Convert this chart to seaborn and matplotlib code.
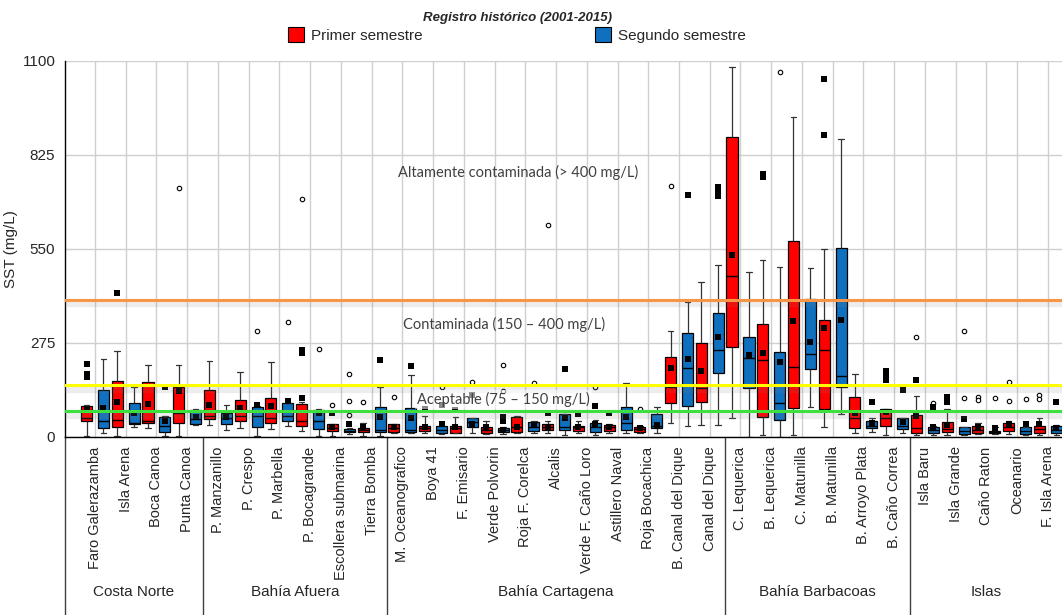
import matplotlib
matplotlib.use("Agg")
import matplotlib.pyplot as plt
import matplotlib.patheffects as pe
from matplotlib.patches import Patch
import numpy as np
import pandas as pd
import seaborn as sns

# estaciones y zonas
stations = ["Faro Galerazamba", "Isla Arena", "Boca Canoa", "Punta Canoa",
            "P. Manzanillo", "P. Crespo", "P. Marbella", "P. Bocagrande",
            "Escollera submarina", "Tierra Bomba",
            "M. Oceanografico", "Boya 41", "F. Emisario", "Verde Polvorin",
            "Roja F. Corelca", "Alcalis", "Verde F. Caño Loro", "Astillero Naval",
            "Roja Bocachica", "B. Canal del Dique", "Canal del Dique",
            "C. Lequerica", "B. Lequerica", "C. Matunilla", "B. Matunilla",
            "B. Arroyo Plata", "B. Caño Correa",
            "Isla Baru", "Isla Grande", "Caño Raton", "Oceanario", "F. Isla Arena"]
groups = ["Costa Norte", "Bahía Afuera", "Bahía Cartagena", "Bahía Barbacoas", "Islas"]
group_sizes = [4, 6, 11, 6, 5]
semesters = ["Primer semestre", "Segundo semestre"]

# primer semestre: bigote inf, Q1, mediana, Q3, bigote sup, media
r_lo = [2, 2, 25, 2, 34, 26, 22, 17, 2, 2,
        11, 11, 10, 8, 11, 12, 10, 10, 12, 39, 34,
        55, 5, 5, 29, 12, 5,
        5, 5, 8, 8, 5]
r_q1 = [47, 29, 39, 39, 52, 46, 39, 32, 17, 14,
        15, 17, 12, 10, 15, 20, 18, 17, 15, 99, 101,
        262, 59, 83, 80, 25, 31,
        10, 15, 12, 17, 12]
r_med = [54, 49, 45, 70, 61, 61, 54, 46, 25, 20,
         26, 25, 24, 20, 29, 29, 27, 27, 22, 145, 142,
         471, 224, 205, 254, 54, 54,
         25, 23, 20, 29, 23]
r_q3 = [91, 164, 161, 146, 137, 107, 114, 95, 36, 26,
        36, 32, 32, 29, 57, 36, 31, 34, 29, 232, 273,
        878, 329, 573, 341, 117, 80,
        63, 42, 31, 41, 31]
r_hi = [92, 251, 210, 210, 221, 188, 218, 102, 38, 41,
        38, 61, 59, 46, 61, 45, 47, 38, 31, 310, 452,
        1083, 517, 936, 549, 183, 82,
        120, 80, 41, 45, 54]
r_mean = [78, 101, 96, 134, 93, 83, 91, 112, 27, 27,
          27, 27, 27, 27, 29, 29, 27, 27, 24, 200, 192,
          532, 244, 339, 317, 70, 71,
          61, 35, 29, 36, 36]

# segundo semestre
b_lo = [10, 29, 2, 34, 20, 2, 31, 2, 8, 2,
        10, 9, 11, 8, 12, 5, 5, 10, 11, 31, 34,
        0, 0, 86, 66, 15, 10,
        5, 5, 8, 5, 5]
b_q1 = [26, 36, 13, 37, 36, 29, 46, 22, 14, 15,
        15, 12, 27, 15, 18, 20, 15, 20, 25, 90, 185,
        142, 49, 197, 145, 25, 22,
        10, 8, 10, 7, 10]
b_med = [47, 41, 31, 51, 55, 61, 61, 46, 18, 20,
         20, 20, 44, 20, 29, 29, 27, 39, 30, 202, 254,
         229, 100, 242, 178, 31, 32,
         19, 16, 14, 16, 19]
b_q3 = [137, 98, 59, 78, 70, 88, 98, 78, 22, 88,
        85, 32, 54, 25, 42, 65, 41, 86, 65, 303, 363,
        291, 249, 403, 551, 46, 54,
        27, 27, 18, 27, 31]
b_hi = [227, 145, 62, 80, 93, 90, 100, 80, 24, 146,
        180, 38, 56, 27, 45, 67, 49, 158, 88, 395, 502,
        483, 497, 494, 871, 54, 56,
        31, 29, 29, 29, 33]
b_mean = [83, 68, 47, 57, 57, 93, 104, 70, 36, 57,
          54, 36, 36, 20, 34, 54, 36, 57, 34, 226, 291,
          239, 218, 278, 341, 39, 42,
          27, 51, 25, 36, 25]

# valores atipicos (circulos) y extremos (cuadrados)
P1, P2 = semesters
outliers = [("Punta Canoa", P1, 727), ("P. Crespo", P2, 310), ("P. Marbella", P2, 335),
            ("P. Bocagrande", P1, 695), ("P. Bocagrande", P2, 256),
            ("Escollera submarina", P1, 93), ("Escollera submarina", P2, 183),
            ("Escollera submarina", P2, 105), ("Escollera submarina", P2, 63),
            ("Tierra Bomba", P1, 102), ("M. Oceanografico", P1, 117),
            ("Boya 41", P2, 146), ("F. Emisario", P2, 161),
            ("Verde Polvorin", P2, 134), ("Verde Polvorin", P2, 210),
            ("Roja F. Corelca", P2, 156), ("Alcalis", P1, 618),
            ("Verde F. Caño Loro", P2, 145), ("Roja Bocachica", P1, 81),
            ("B. Canal del Dique", P1, 733), ("B. Lequerica", P2, 1067),
            ("Isla Baru", P1, 293), ("Isla Baru", P2, 98),
            ("Isla Grande", P2, 309), ("Isla Grande", P2, 112),
            ("Caño Raton", P1, 115), ("Caño Raton", P1, 107), ("Caño Raton", P2, 112),
            ("Oceanario", P1, 161), ("Oceanario", P1, 105), ("Oceanario", P2, 109),
            ("F. Isla Arena", P1, 122), ("F. Isla Arena", P1, 109)]
extremes = [("Faro Galerazamba", P1, 213), ("Faro Galerazamba", P1, 183),
            ("Faro Galerazamba", P1, 174), ("Isla Arena", P1, 420),
            ("Boca Canoa", P2, 145), ("P. Bocagrande", P1, 255), ("P. Bocagrande", P1, 245),
            ("Escollera submarina", P1, 68), ("Tierra Bomba", P2, 224),
            ("M. Oceanografico", P2, 208), ("Boya 41", P1, 82), ("Boya 41", P2, 93),
            ("F. Emisario", P1, 78), ("F. Emisario", P2, 122),
            ("Verde Polvorin", P2, 58), ("Verde Polvorin", P2, 45),
            ("Alcalis", P1, 68), ("Alcalis", P2, 198),
            ("Verde F. Caño Loro", P1, 66), ("Verde F. Caño Loro", P2, 90),
            ("Astillero Naval", P1, 68), ("B. Canal del Dique", P2, 706),
            ("Canal del Dique", P2, 730), ("Canal del Dique", P2, 716),
            ("Canal del Dique", P2, 703),
            ("B. Lequerica", P1, 770), ("B. Lequerica", P1, 760),
            ("B. Matunilla", P1, 1046), ("B. Matunilla", P1, 883),
            ("B. Arroyo Plata", P2, 102),
            ("B. Caño Correa", P1, 193), ("B. Caño Correa", P1, 178),
            ("B. Caño Correa", P1, 166), ("B. Caño Correa", P2, 137),
            ("Isla Baru", P1, 166), ("Isla Baru", P2, 88),
            ("Isla Grande", P1, 117), ("Isla Grande", P1, 102),
            ("F. Isla Arena", P2, 102)]

thresholds = [400, 150, 75]
threshold_colors = ["#F79646", "#FFFF00", "#3EE03E"]

red = "#FF0000"
blue = "#1070C0"

# tablas largas
rows = []
for sem, stats in [(P1, (r_lo, r_q1, r_med, r_q3, r_hi)), (P2, (b_lo, b_q1, b_med, b_q3, b_hi))]:
    for i, st in enumerate(stations):
        for s in stats:
            rows.append((st, sem, s[i]))
box_df = pd.DataFrame(rows, columns=["station", "semester", "value"])

mean_df = pd.DataFrame(
    [(st, P1, v) for st, v in zip(stations, r_mean)] + [(st, P2, v) for st, v in zip(stations, b_mean)],
    columns=["station", "semester", "value"])

sns.set_theme(style="white")
plt.rcParams["font.family"] = ["Liberation Sans", "DejaVu Sans"]

fig = plt.figure(figsize=(10.62, 6.15), dpi=100)
ax = fig.add_axes([65 / 1062, 178.3 / 615, 997 / 1062, 376 / 615])

box_w = 1.106
dodge = box_w / 2
pal = {P1: red, P2: blue}

sns.boxplot(data=box_df, x="station", y="value", hue="semester", order=stations,
            hue_order=semesters, palette=pal, saturation=1, width=box_w, gap=0.35,
            whis=(0, 100), showfliers=False, linewidth=0.9, linecolor="black",
            legend=False, ax=ax,
            whiskerprops={"color": "#333333"}, capprops={"color": "#333333"},
            medianprops={"color": "black", "linewidth": 1.0})

sns.pointplot(data=mean_df, x="station", y="value", hue="semester", order=stations,
              hue_order=semesters, palette={P1: "black", P2: "black"}, markers="s",
              linestyle="none", errorbar=None, dodge=dodge, markersize=4.2,
              markeredgewidth=0, legend=False, ax=ax, zorder=5)


def draw_points(pts, marker, **kw):
    df = pd.DataFrame(pts, columns=["station", "semester", "value"])
    df["k"] = df.groupby(["station", "semester"]).cumcount()
    for k in sorted(df["k"].unique()):
        sns.pointplot(data=df[df["k"] == k], x="station", y="value", hue="semester",
                      order=stations, hue_order=semesters, palette={P1: "black", P2: "black"},
                      markers=marker, linestyle="none", errorbar=None, dodge=dodge,
                      legend=False, ax=ax, zorder=5, **kw)


draw_points(outliers, "o", markersize=3.2, markerfacecolor="white", markeredgewidth=0.8)
draw_points(extremes, "s", markersize=4.2, markeredgewidth=0)

# lineas de calidad con sombra
for v, c in zip(thresholds, threshold_colors):
    ax.axhline(v, color=c, lw=2.2, zorder=6,
               path_effects=[pe.SimpleLineShadow(offset=(0, -2.5), shadow_color="gray", alpha=0.14, linewidth=6),
                             pe.Normal()])

txt_kw = dict(fontsize=10.5, color="#404040", family=["Lato", "DejaVu Sans"], ha="left", va="center", zorder=8)
ax.text(9.86, 774, "Altamente contaminada (> 400 mg/L)", **txt_kw)
ax.text(10.02, 327, "Contaminada (150 – 400 mg/L)", **txt_kw)
ax.text(10.47, 110, "Aceptable (75 – 150 mg/L)",
        bbox=dict(facecolor="white", edgecolor="none", alpha=0.55, pad=1.5), **txt_kw)

x_left, x_right = -0.976, 31.46
ax.set_xlim(x_left, x_right)
ax.set_ylim(0, 1100)
ax.set_yticks([0, 275, 550, 825, 1100])
ax.grid(True, color="#CFCFCF", linewidth=1)
ax.set_axisbelow(True)
for side in ["top", "right"]:
    ax.spines[side].set_visible(False)
for side in ["left", "bottom"]:
    ax.spines[side].set_color("black")
    ax.spines[side].set_linewidth(1)
ax.tick_params(axis="y", direction="out", length=6, width=1, color="black", labelsize=11, pad=1)
ax.tick_params(axis="x", direction="out", length=6, width=1, color="#404040", labelsize=10.5, pad=1)
ax.set_xticks(range(len(stations)))
ax.set_xticklabels(stations, rotation=90, ha="center", va="top")
ax.set_xlabel("")
ax.set_ylabel("SST (mg/L)", fontsize=11)
ax.yaxis.set_label_coords(-0.047, 0.5)

# separadores y nombres de zonas bajo el eje
trans = ax.get_xaxis_transform()
bounds = list(np.cumsum(group_sizes)[:-1] - 0.5)
for b in [x_left] + bounds:
    ax.plot([b, b], [0, -0.48], transform=trans, color="#404040", lw=1, clip_on=False)
starts = [x_left] + bounds
ends = bounds + [x_right]
for name, a, b in zip(groups, starts, ends):
    ax.text((a + b) / 2, -0.413, name, transform=trans, ha="center", va="center", fontsize=11)

handles = [Patch(facecolor=red, edgecolor="black", lw=0.8),
           Patch(facecolor=blue, edgecolor="black", lw=0.8)]
fig.legend(handles, semesters, loc="upper center", bbox_to_anchor=(0.487, 1.0), ncol=2,
           frameon=False, fontsize=11, title="Registro histórico (2001-2015)",
           title_fontproperties={"weight": "bold", "style": "italic", "size": 9.5},
           handlelength=1.05, handleheight=1.1, handletextpad=0.45, columnspacing=11.3,
           borderpad=0.3, labelspacing=0.2)

fig.savefig("out.png", dpi=100)
